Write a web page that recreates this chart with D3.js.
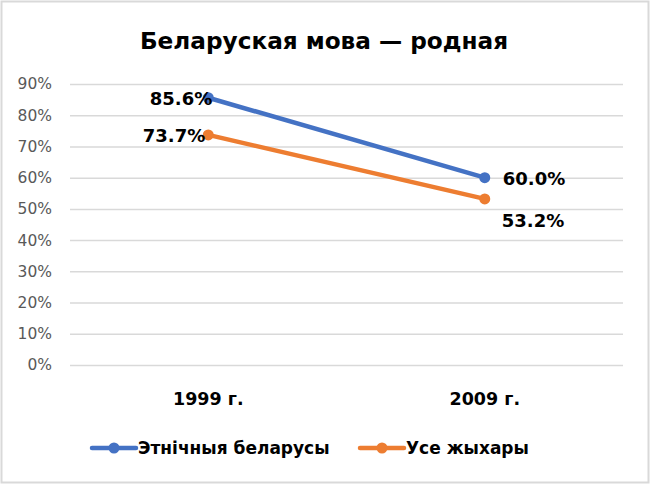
<!DOCTYPE html>
<html>
<head>
<meta charset="utf-8">
<script src="https://cdn.jsdelivr.net/npm/d3@7"></script>
<style>
  html, body { margin: 0; padding: 0; background: #fff; }
  svg { display: block; }
  text { font-family: "DejaVu Sans", sans-serif; }
</style>
</head>
<body>
<svg id="chart" width="650" height="484"></svg>
<script>
const title = "Беларуская мова — родная";
const categories = ["1999 г.", "2009 г."];
const seriesNames = ["Этнічныя беларусы", "Усе жыхары"];
const ethnicBelarusians = [85.6, 60.0];
const allResidents = [73.7, 53.2];
const yTicks = [0, 10, 20, 30, 40, 50, 60, 70, 80, 90];
const colors = ["#4472C4", "#ED7D31"];

const series = [
  { name: seriesNames[0], values: ethnicBelarusians, color: colors[0] },
  { name: seriesNames[1], values: allResidents, color: colors[1] }
];

const FONT = "'DejaVu Sans', sans-serif";
const svg = d3.select("#chart");
const W = 650, H = 484;

// border
svg.append("rect").attr("x", 1.5).attr("y", 1.5).attr("width", W - 3).attr("height", H - 3)
  .attr("fill", "#fff").attr("stroke", "#d9d9d9").attr("stroke-width", 2);

const margin = { left: 70, right: 27, top: 84, bottom: 119 };
const x = d3.scaleBand().domain(categories).range([margin.left, W - margin.right]);
const y = d3.scaleLinear().domain([0, 90]).range([H - margin.bottom, margin.top]);

// title
svg.append("text").attr("x", 324).attr("y", 49).attr("text-anchor", "middle")
  .attr("font-size", 23.2).attr("font-weight", "bold").attr("fill", "#000").text(title);

// gridlines
const yAxis = d3.axisLeft(y).tickValues(yTicks).tickFormat(d => d + "%")
  .tickSize(-(W - margin.left - margin.right)).tickPadding(18);
const gy = svg.append("g").attr("transform", `translate(${margin.left},0)`).call(yAxis);
gy.select(".domain").remove();
gy.selectAll(".tick line").attr("stroke", "#d9d9d9").attr("stroke-width", 1.5);
gy.selectAll(".tick text").attr("fill", "#595959").attr("font-size", 15.5)
  .attr("font-family", FONT);

// x axis labels
const xAxis = d3.axisBottom(x).tickSize(0).tickPadding(0);
const gx = svg.append("g").attr("transform", `translate(0,${H - margin.bottom})`).call(xAxis);
gx.select(".domain").remove();
gx.selectAll(".tick text").attr("fill", "#000").attr("font-size", 17.5).attr("font-weight", "bold")
  .attr("font-family", FONT).attr("dy", null).attr("y", 40);

const cx = c => x(c) + x.bandwidth() / 2;
const line = d3.line().x((d, i) => cx(categories[i])).y(d => y(d));

series.forEach((s, si) => {
  svg.append("path").attr("d", line(s.values)).attr("fill", "none")
    .attr("stroke", s.color).attr("stroke-width", 4.5).attr("stroke-linecap", "round");
  svg.selectAll(null).data(s.values).enter().append("circle")
    .attr("cx", (d, i) => cx(categories[i])).attr("cy", d => y(d)).attr("r", 5.5)
    .attr("fill", s.color);
});

// data labels
const labelFmt = d => d.toFixed(1) + "%";
const lbl = (xv, yv, txt, anchor) => svg.append("text").attr("x", xv).attr("y", yv)
  .attr("text-anchor", anchor).attr("font-size", 18).attr("font-weight", "bold")
  .attr("fill", "#000").text(txt);
lbl(cx(categories[0]) + 4, y(ethnicBelarusians[0]) + 7, labelFmt(ethnicBelarusians[0]), "end");
lbl(cx(categories[0]) - 3, y(allResidents[0]) + 7, labelFmt(allResidents[0]), "end");
lbl(cx(categories[1]) + 18, y(ethnicBelarusians[1]) + 7, labelFmt(ethnicBelarusians[1]), "start");
lbl(cx(categories[1]) + 17, y(allResidents[1]) + 28, labelFmt(allResidents[1]), "start");

// legend
const legendItems = [
  { x0: 92, name: seriesNames[0], color: colors[0] },
  { x0: 360, name: seriesNames[1], color: colors[1] }
];
const lg = svg.append("g");
legendItems.forEach(it => {
  lg.append("line").attr("x1", it.x0).attr("x2", it.x0 + 44).attr("y1", 448).attr("y2", 448)
    .attr("stroke", it.color).attr("stroke-width", 4.5).attr("stroke-linecap", "round");
  lg.append("circle").attr("cx", it.x0 + 22).attr("cy", 448).attr("r", 5.5).attr("fill", it.color);
  lg.append("text").attr("x", it.x0 + 46).attr("y", 454).attr("font-size", 17)
    .attr("font-weight", "bold").attr("fill", "#000").text(it.name);
});
</script>
</body>
</html>
